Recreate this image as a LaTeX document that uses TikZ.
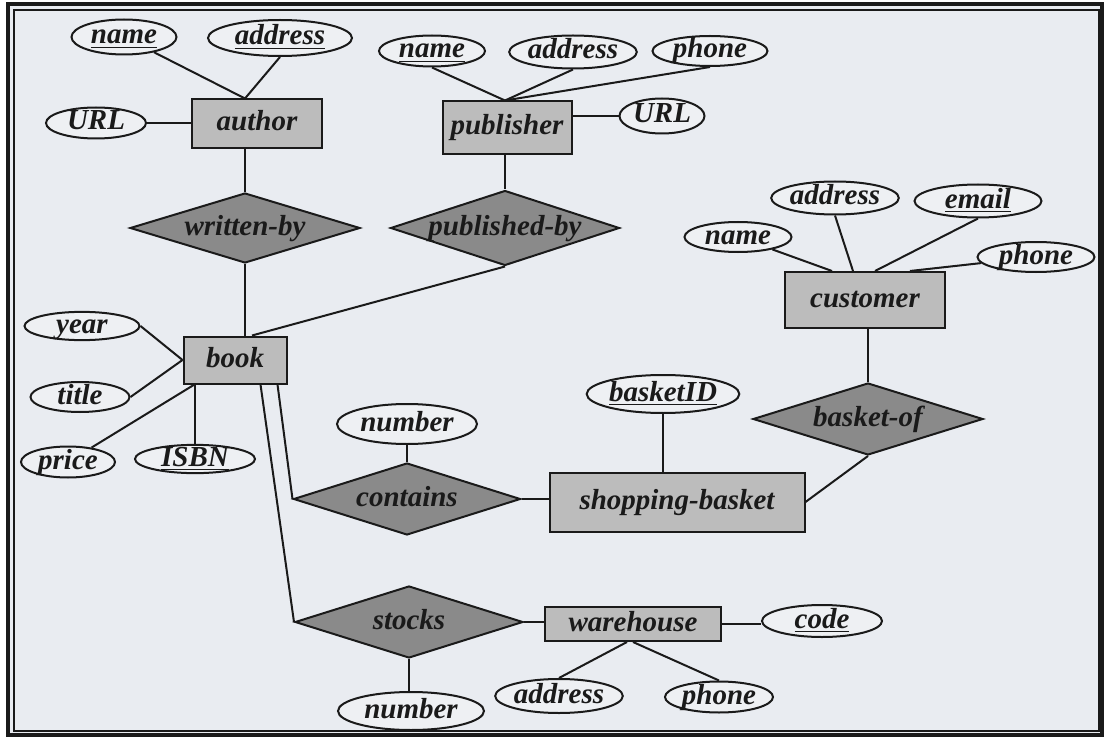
\documentclass[tikz,border=0pt]{standalone}
\usepackage{fontspec}
\newfontfamily\erfont{Liberation Serif}
\usetikzlibrary{shapes.geometric,calc}
\definecolor{paper}{HTML}{E9ECF1}
\definecolor{attrfill}{HTML}{EEF0F3}
\definecolor{entfill}{HTML}{BCBCBC}
\definecolor{relfill}{HTML}{8A8A8A}
\definecolor{ink}{HTML}{1A1A1A}
% key attributes: underlined name
\newcommand\keyattr[1]{\leavevmode\vtop{\hbox{#1}\kern1.2pt\hrule height 0.8pt}}
\begin{document}
\begin{tikzpicture}[x=0.5pt,y=-0.5pt,
  erlabel/.style={font=\erfont\bfseries\itshape\fontsize{14.5}{17}\selectfont,
    text height=8.5pt, text depth=1.5pt, inner sep=0pt, text=ink},
  attr/.style={erlabel, ellipse, draw=ink, fill=attrfill, line width=1pt},
  entity/.style={erlabel, rectangle, draw=ink, fill=entfill, line width=1pt},
  rel/.style={erlabel, diamond, aspect=3.2, draw=ink, fill=relfill, line width=1pt},
  sz/.style 2 args={minimum width=#1*0.5pt, minimum height=#2*0.5pt},
  link/.style={draw=ink, line width=1pt}]

\useasboundingbox (0,0) rectangle (1104,738);
\fill[white] (0,0) rectangle (1104,738);
\fill[paper] (8,4) rectangle (1102,735);
\draw[ink, line width=1.6pt] (8,4) rectangle (1102,735);
\draw[ink, line width=1pt] (14,10) rectangle (1099,731);

% author
\node[attr,sz={105}{35}] (aname) at (124,37) {\keyattr{name}};
\node[attr,sz={144}{36}] (aaddr) at (280,38) {\keyattr{address}};
\node[attr,sz={100}{31}] (aurl) at (96,123) {URL};
\node[entity,sz={130}{49}] (author) at (257,124) {author};
\node[rel,sz={230}{70}] (writtenby) at (245,228) {written-by};
\coordinate (atop) at (author.north -| writtenby.north);

% publisher
\node[attr,sz={106}{31}] (pname) at (432,51) {\keyattr{name}};
\node[attr,sz={127}{33}] (paddr) at (573,52) {address};
\node[attr,sz={115}{30}] (pphone) at (710,51) {phone};
\node[entity,sz={129}{53}] (publisher) at (507,128) {publisher};
\node[attr,sz={85}{35}] (purl) at (662,116) {URL};
\node[rel,sz={229}{75}] (publishedby) at (505,228) {published-by};
\coordinate (ptop) at (publisher.north -| publishedby.north);

% customer
\node[attr,sz={107}{30}] (cname) at (738,237) {name};
\node[attr,sz={126}{33}] (caddr) at (835,198) {address};
\node[attr,sz={127}{33}] (cemail) at (978,201) {\keyattr{email}};
\node[attr,sz={117}{30}] (cphone) at (1036,257) {phone};
\node[entity,sz={160}{56}] (customer) at (865,300) {customer};
\node[rel,sz={230}{72}] (basketof) at (868,419) {basket-of};

% book
\node[entity,sz={103}{47}] (book) at (235,360) {book};
\node[attr,sz={115}{28}] (year) at (82,326) {year};
\node[attr,sz={99}{30}] (title) at (80,397) {title};
\node[attr,sz={94}{31}] (price) at (68,462) {price};
\node[attr,sz={120}{28}] (isbn) at (195,459) {\keyattr{ISBN}};

% shopping basket
\node[rel,sz={227}{72}] (contains) at (407,499) {contains};
\node[attr,sz={140}{40}] (cnum) at (407,424) {number};
\node[entity,sz={255}{59}] (basket) at (677,502) {shopping-basket};
\node[attr,sz={146}{38}] (basketid) at (663,394) {\keyattr{basketID}};

% warehouse
\node[rel,sz={228}{72}] (stocks) at (409,622) {stocks};
\node[attr,sz={146}{38}] (snum) at (411,711) {number};
\node[entity,sz={176}{34}] (warehouse) at (633,624) {warehouse};
\node[attr,sz={120}{32}] (code) at (822,621) {\keyattr{code}};
\node[attr,sz={125}{34}] (waddr) at (559,696) {address};
\node[attr,sz={108}{31}] (wphone) at (719,697) {phone};

% connectors
\draw[link] (aname) -- (atop);
\draw[link] (aaddr.south) -- (atop);
\draw[link] (aurl.east) -- (aurl.east -| author.west);
\draw[link] (author.south -| writtenby.north) -- (writtenby.north);

\draw[link] (pname.south) -- (ptop);
\draw[link] (paddr.south) -- (ptop);
\draw[link] (pphone.south) -- (ptop);
\draw[link] (publisher.east |- purl) -- (purl.west);
\draw[link] (publisher.south -| publishedby.north) -- (publishedby.north);

\draw[link] (cname) -- ([xshift=-16.5pt]customer.north);
\draw[link] (caddr.south) -- ([xshift=-6pt]customer.north);
\draw[link] (cemail.south) -- ([xshift=5pt]customer.north);
\draw[link] (cphone) -- ([xshift=22.5pt]customer.north);
\draw[link] (customer.south -| basketof.north) -- (basketof.north);
\draw[link] (basketof.south) -- (basket.east);

\draw[link] (writtenby.south) -- (writtenby.south |- book.north);
\draw[link] (publishedby.south) -- ([xshift=8.5pt]book.north);
\draw[link] (year.east) -- (book.west);
\draw[link] (title.east) -- (book.west);
\draw[link] (price) -- ([xshift=-20.25pt]book.south);
\draw[link] (isbn.north) -- (isbn.north |- book.south);
\draw[link] ([xshift=12.75pt]book.south) -- (stocks.west);
\draw[link] ([xshift=21.25pt]book.south) -- (contains.west);

\draw[link] (cnum.south) -- (contains.north);
\draw[link] (contains.east) -- (contains.east -| basket.west);
\draw[link] (basketid.south) -- (basketid.south |- basket.north);

\draw[link] (stocks.south) -- (stocks.south |- snum.north);
\draw[link] (stocks.east) -- (stocks.east -| warehouse.west);
\draw[link] (warehouse.east) -- (warehouse.east -| code.west);
\draw[link] (waddr.north) -- ([xshift=-3pt]warehouse.south);
\draw[link] (wphone.north) -- (warehouse.south);
\end{tikzpicture}
\end{document}
